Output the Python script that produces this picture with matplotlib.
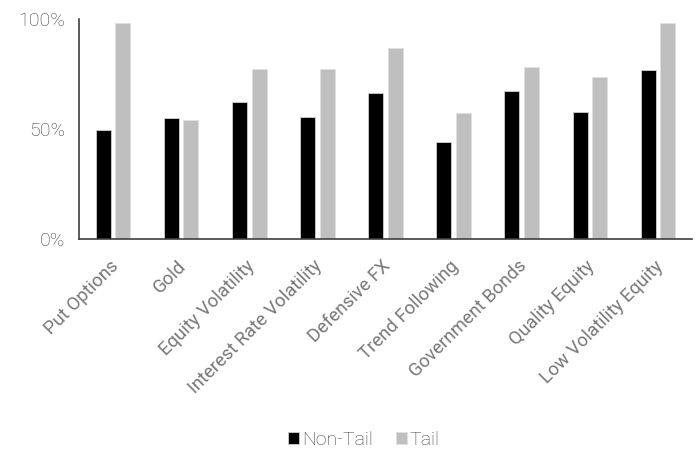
import matplotlib
matplotlib.use('Agg')
import matplotlib.pyplot as plt
import matplotlib.transforms as mtransforms
import numpy as np
from matplotlib.ticker import FixedLocator, PercentFormatter

categories = ['Put Options', 'Gold', 'Equity Volatility', 'Interest Rate Volatility',
              'Defensive FX', 'Trend Following', 'Government Bonds', 'Quality Equity',
              'Low Volatility Equity']
non_tail = [0.495, 0.548, 0.621, 0.555, 0.662, 0.439, 0.673, 0.576, 0.767]
tail = [0.98, 0.539, 0.773, 0.773, 0.868, 0.574, 0.783, 0.735, 0.98]
series_names = ['Non-Tail', 'Tail']

plt.rcParams['font.family'] = ['Roboto', 'DejaVu Sans']
plt.rcParams['font.weight'] = 'light'
text_color = '#404040'

fig = plt.figure(figsize=(6.99, 4.51), dpi=100)
ax = fig.add_axes([0.113, 0.47, 0.877, 0.488])

x = np.arange(len(categories))
w = 0.22
off = 0.143
ax.bar(x - off, non_tail, w, color='black', edgecolor='#d0d0d0', linewidth=0.6, label=series_names[0])
ax.bar(x + off, tail, w, color='#bfbfbf', edgecolor='#e0e0e0', linewidth=0.6, label=series_names[1])

ax.set_xlim(-0.5, len(categories) - 0.5)
ax.set_ylim(0, 1.0)
ax.yaxis.set_major_locator(FixedLocator([0, 0.5, 1.0]))
ax.yaxis.set_major_formatter(PercentFormatter(1.0, decimals=0))

ax.set_xticks(x)
ax.set_xticklabels(categories, rotation=45, ha='right', rotation_mode='anchor',
                   fontweight='normal', color='#777777')
ax.tick_params(axis='y', length=0, labelsize=14, labelcolor=text_color, pad=10)
ax.tick_params(axis='x', length=0, labelsize=13.3, pad=13)

# nudge the slanted category labels a little to the left
shift = mtransforms.ScaledTranslation(-4 / 100, 0, fig.dpi_scale_trans)
for lbl in ax.get_xticklabels():
    lbl.set_transform(lbl.get_transform() + shift)

for s in ['top', 'right']:
    ax.spines[s].set_visible(False)
for s in ['left', 'bottom']:
    ax.spines[s].set_color('#404040')
    ax.spines[s].set_linewidth(1.2)

fig.legend(loc='center', bbox_to_anchor=(364 / 699, 1 - 440 / 451), ncol=2, frameon=False,
           fontsize=14, labelcolor=text_color, handlelength=0.55, handleheight=0.55,
           handletextpad=0.15, columnspacing=1.2)

fig.savefig('out.png', dpi=100)
